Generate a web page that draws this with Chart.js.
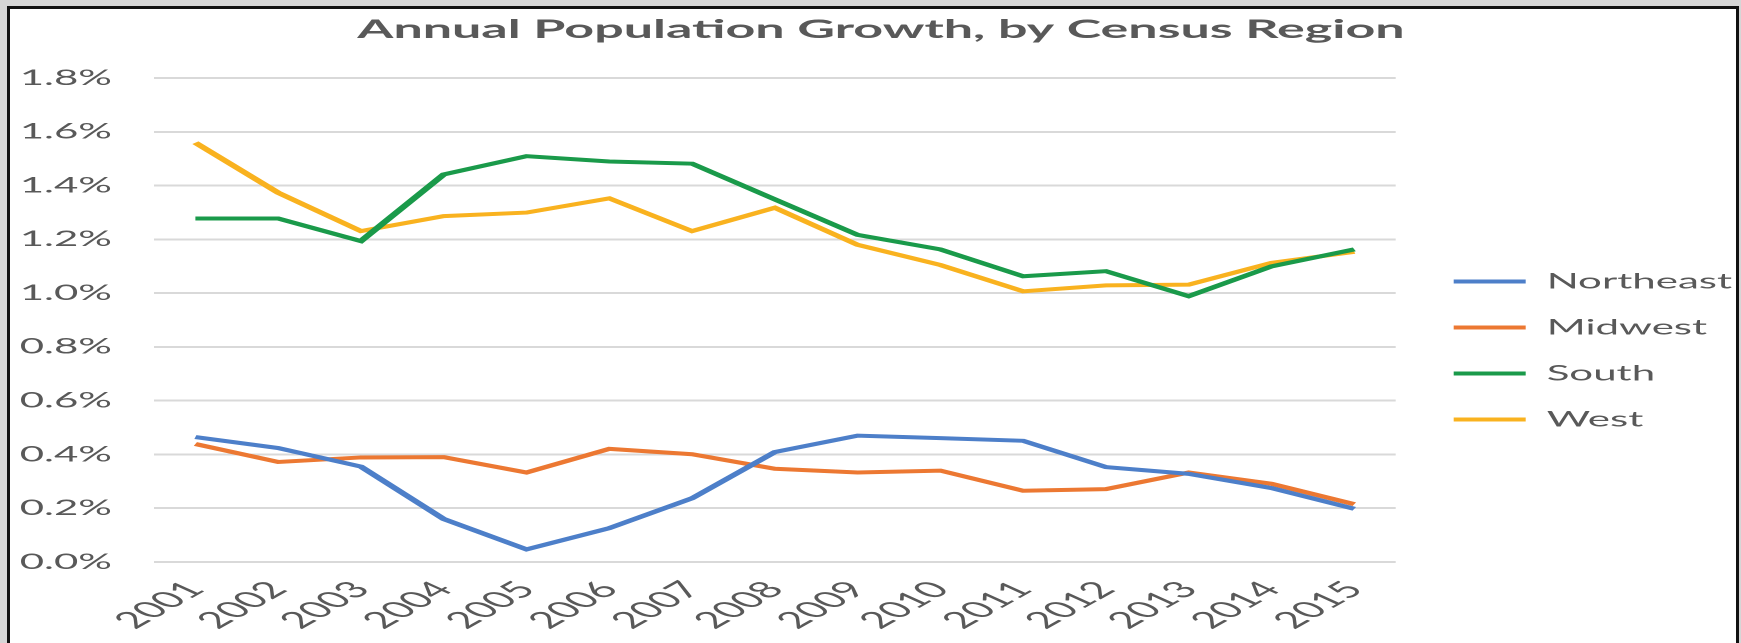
<!DOCTYPE html>
<html>
<head>
<meta charset="utf-8">
<script src="https://cdn.jsdelivr.net/npm/chart.js@4.4.1/dist/chart.umd.min.js"></script>
<style>
  html, body { margin: 0; padding: 0; overflow: hidden; }
  body { width: 1741px; height: 643px; background: #d6d6d6; position: relative; }
  /* the chart frame */
  #frame { position: absolute; left: 7px; top: 6px; width: 1726px; height: 700px;
           border: 3px solid #111; background: #fff; }
  /* the source picture is stretched sideways, so the chart is drawn narrow and scaled */
  #wrap { position: absolute; left: 0; top: 0; width: 863px; height: 683px;
          transform: scaleX(2); transform-origin: 0 0; }
</style>
</head>
<body>
<div id="frame"><div id="wrap"><canvas id="myChart"></canvas></div></div>
<script>
// years on the x axis
var years = ['2001', '2002', '2003', '2004', '2005', '2006', '2007', '2008',
             '2009', '2010', '2011', '2012', '2013', '2014', '2015'];

// annual growth, in percent
var northeast = [0.465, 0.424, 0.355, 0.160, 0.047, 0.126, 0.237, 0.409, 0.470, 0.461, 0.451, 0.353, 0.328, 0.275, 0.198];
var midwest   = [0.439, 0.372, 0.389, 0.390, 0.333, 0.421, 0.401, 0.347, 0.333, 0.340, 0.265, 0.271, 0.333, 0.291, 0.215];
var south     = [1.278, 1.278, 1.194, 1.442, 1.510, 1.490, 1.482, 1.349, 1.217, 1.163, 1.063, 1.082, 0.989, 1.100, 1.163];
var west      = [1.560, 1.374, 1.231, 1.287, 1.300, 1.353, 1.231, 1.318, 1.180, 1.105, 1.007, 1.029, 1.032, 1.113, 1.154];

var yMin = 0, yMax = 1.8, yStep = 0.2;

var grey = '#595959';
var font = 'Lato, "Open Sans", sans-serif';

function line(label, values, color) {
    return {
        label: label,
        data: values,
        borderColor: color,
        backgroundColor: color,
        borderWidth: 4,
        pointRadius: 0,
        tension: 0
    };
}

function draw() {
    var ctx = document.getElementById('myChart').getContext('2d');
    new Chart(ctx, {
        type: 'line',
        data: {
            labels: years,
            datasets: [
                line('Northeast', northeast, '#4d7fc9'),
                line('Midwest', midwest, '#ec7832'),
                line('South', south, '#1a9a4a'),
                line('West', west, '#f9b21f')
            ]
        },
        options: {
            responsive: true,
            maintainAspectRatio: false,
            devicePixelRatio: 2,
            animation: false,
            events: [],
            layout: { padding: { left: 0, right: -8, top: 0, bottom: 0 } },
            plugins: {
                title: {
                    display: true,
                    text: 'Annual Population Growth, by Census Region',
                    color: grey,
                    font: { family: font, size: 26, weight: 'bold' },
                    padding: { top: 5, bottom: 33 }
                },
                legend: {
                    position: 'right',
                    maxWidth: 300,
                    labels: {
                        color: grey,
                        font: { family: font, size: 21 },
                        usePointStyle: true,
                        pointStyle: 'line',
                        pointStyleWidth: 36,
                        boxHeight: 21,
                        padding: 25
                    }
                },
                tooltip: { enabled: false }
            },
            scales: {
                x: {
                    offset: true,
                    grid: { display: false },
                    border: { display: false },
                    ticks: {
                        color: grey,
                        font: { family: font, size: 23 },
                        minRotation: 48,
                        maxRotation: 48,
                        autoSkip: false,
                        padding: 6
                    },
                    afterFit: function (s) { s.height = 130; }
                },
                y: {
                    min: yMin,
                    max: yMax,
                    grid: { color: '#d9d9d9', lineWidth: 2, drawTicks: false },
                    border: { display: false },
                    ticks: {
                        stepSize: yStep,
                        color: grey,
                        font: { family: font, size: 21 },
                        padding: 21,
                        callback: function (v) { return v.toFixed(1) + '%'; }
                    },
                    afterFit: function (s) { s.width = 72; }
                },
                // empty strip between the plot and the legend
                gap: {
                    type: 'linear',
                    position: 'right',
                    grid: { display: false },
                    border: { display: false },
                    ticks: { display: false },
                    afterFit: function (s) { s.width = 4; }
                }
            }
        }
    });
}

// make sure Lato is ready before the legend measures its text
Promise.all([
    document.fonts.load('21px Lato'),
    document.fonts.load('23px Lato'),
    document.fonts.load('bold 26px Lato')
]).then(draw, draw);
</script>
</body>
</html>
